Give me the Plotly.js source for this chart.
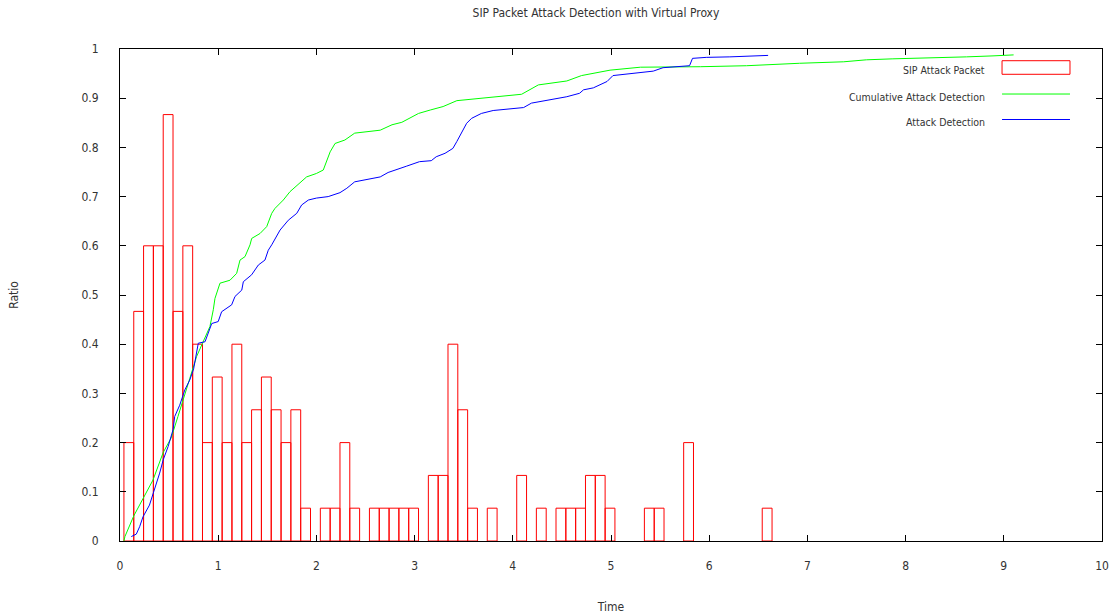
<!DOCTYPE html>
<html>
<head>
<meta charset="utf-8">
<script src="https://cdn.plot.ly/plotly-3.0.1.min.js"></script>
<style>html,body{margin:0;padding:0;background:#fff;}#chart{width:1113px;height:615px;}</style>
</head>
<body>
<div id="chart"></div>
<script>
// SIP attack packets per 0.1 time bin (bin centres)
const barTime = [0.09,0.19,0.29,0.39,0.49,0.59,0.69,0.79,0.89,0.99,
  1.09,1.19,1.29,1.39,1.49,1.59,1.69,1.79,1.89,1.99,
  2.09,2.19,2.29,2.39,2.49,2.59,2.69,2.79,2.89,2.99,
  3.09,3.19,3.29,3.39,3.49,3.59,3.69,3.79,3.89,3.99,
  4.09,4.19,4.29,4.39,4.49,4.59,4.69,4.79,4.89,4.99,
  5.09,5.19,5.29,5.39,5.49,5.59,5.69,5.79,5.89,5.99,
  6.09,6.19,6.29,6.39,6.49,6.59];
const barRatio = [0.2,0.4667,0.6,0.6,0.8667,0.4667,0.6,0.4,0.2,0.3333,
  0.2,0.4,0.2,0.2667,0.3333,0.2667,0.2,0.2667,0.0667,0,
  0.0667,0.0667,0.2,0.0667,0,0.0667,0.0667,0.0667,0.0667,0.0667,
  0,0.1333,0.1333,0.4,0.2667,0.0667,0,0.0667,0,0,
  0.1333,0,0.0667,0,0.0667,0.0667,0.0667,0.1333,0.1333,0.0667,
  0,0,0,0.0667,0.0667,0,0,0.2,0,0,
  0,0,0,0,0,0.0667];

// Cumulative attack detection (green)
const cumX = [0.04,0.05,0.14,0.234,0.336,0.44,0.52,0.59,0.64,0.71,0.78,0.85,0.916,0.95,0.967,1.018,1.12,1.188,1.222,1.273,1.324,1.341,1.426,1.494,1.545,1.578,1.663,1.731,1.833,1.90,2.0,2.07,2.14,2.19,2.29,2.39,2.65,2.77,2.87,3.04,3.16,3.29,3.43,3.6,3.8,3.97,4.09,4.26,4.55,4.70,4.99,5.30,5.57,5.91,6.38,6.69,6.92,7.37,7.60,7.87,8.15,8.62,8.89,9.10];
const cumY = [0,0.009,0.051,0.087,0.124,0.18,0.209,0.253,0.287,0.33,0.375,0.405,0.436,0.47,0.493,0.524,0.53,0.544,0.571,0.578,0.602,0.615,0.625,0.639,0.666,0.676,0.693,0.71,0.727,0.74,0.747,0.754,0.791,0.808,0.815,0.829,0.835,0.846,0.851,0.869,0.876,0.883,0.895,0.898,0.902,0.905,0.908,0.927,0.935,0.946,0.957,0.963,0.963,0.964,0.966,0.969,0.971,0.974,0.978,0.98,0.981,0.984,0.986,0.988];

// Attack detection (blue)
const detX = [0.115,0.166,0.2,0.234,0.30,0.353,0.404,0.44,0.49,0.54,0.557,0.608,0.66,0.71,0.75,0.797,0.866,0.934,1.0,1.035,1.137,1.171,1.24,1.256,1.34,1.409,1.476,1.51,1.545,1.63,1.714,1.80,1.85,1.918,2.0,2.12,2.24,2.31,2.39,2.65,2.73,2.92,3.05,3.17,3.22,3.31,3.39,3.43,3.48,3.53,3.58,3.68,3.80,3.97,4.11,4.19,4.35,4.55,4.68,4.72,4.82,4.96,5.02,5.23,5.43,5.53,5.80,5.83,5.97,6.21,6.48,6.6];
const detY = [0.009,0.014,0.029,0.049,0.073,0.104,0.138,0.165,0.192,0.226,0.253,0.276,0.307,0.327,0.35,0.402,0.405,0.442,0.446,0.466,0.48,0.497,0.51,0.527,0.541,0.561,0.571,0.591,0.602,0.632,0.652,0.666,0.683,0.693,0.697,0.70,0.708,0.717,0.73,0.74,0.749,0.762,0.771,0.773,0.781,0.788,0.798,0.812,0.832,0.849,0.859,0.869,0.875,0.878,0.881,0.89,0.896,0.903,0.91,0.917,0.921,0.934,0.946,0.951,0.955,0.962,0.966,0.981,0.983,0.984,0.986,0.987];

const xTicks = [0,1,2,3,4,5,6,7,8,9,10];
const yTicks = [0,0.1,0.2,0.3,0.4,0.5,0.6,0.7,0.8,0.9,1];
const yTickText = ['0','0.1','0.2','0.3','0.4','0.5','0.6','0.7','0.8','0.9','1'];
const legendNames = ['SIP Attack Packet','Cumulative Attack Detection','Attack Detection'];

const FONT = '"Liberation Sans Narrow", "DejaVu Sans Condensed", "Liberation Sans", Arial, sans-serif';
const TXT = '#333333';

const traces = [
  {type:'bar', x:barTime, y:barRatio.map(v => v === 0 ? null : v), width:0.1, name:legendNames[0],
   marker:{color:'rgba(0,0,0,0)', line:{color:'#ff0000', width:1}}, hoverinfo:'x+y'},
  {type:'scatter', mode:'lines', x:cumX, y:cumY, name:legendNames[1],
   line:{color:'#00ff00', width:1}},
  {type:'scatter', mode:'lines', x:detX, y:detY, name:legendNames[2],
   line:{color:'#0000ff', width:1}}
];

// legend (gnuplot style: text left of sample)
const lx = 0.8829, sx0 = 0.8982, sx1 = 0.9674;
const legY = [0.9573, 0.9030, 0.8522];
const annotations = legendNames.map((n,i)=>({
  text:n, xref:'paper', yref:'paper', x:lx, y:legY[i], xanchor:'right', yanchor:'middle',
  showarrow:false, font:{family:FONT, size:10.5, color:TXT}
}));
const shapes = [
  {type:'rect', xref:'paper', yref:'paper', x0:sx0, x1:sx1, y0:0.9486, y1:0.9762, line:{color:'#ff0000', width:1}, fillcolor:'rgba(0,0,0,0)'},
  {type:'line', xref:'paper', yref:'paper', x0:sx0, x1:sx1, y0:0.9085, y1:0.9085, line:{color:'#00ff00', width:1}},
  {type:'line', xref:'paper', yref:'paper', x0:sx0, x1:sx1, y0:0.8567, y1:0.8567, line:{color:'#0000ff', width:1}}
];

const layout = {
  width:1113, height:615,
  margin:{l:120, r:11, t:49, b:74, pad:0},
  paper_bgcolor:'#ffffff', plot_bgcolor:'#ffffff',
  showlegend:false,
  font:{family:FONT, size:12, color:TXT},
  title:{text:'SIP Packet Attack Detection with Virtual Proxy', font:{family:FONT, size:12, color:TXT},
    xref:'paper', x:0.4847, xanchor:'center', yref:'container', y:0.979, yanchor:'middle'},
  xaxis:{range:[0,10], tickvals:xTicks, ticktext:xTicks.map(String), showgrid:false, zeroline:false,
    showline:true, linecolor:'#000', linewidth:1, mirror:'ticks', ticks:'inside', ticklen:6, tickcolor:'#000', tickwidth:1,
    ticklabelstandoff:14, tickfont:{family:FONT, size:12, color:TXT},
    title:{text:'Time', font:{family:FONT, size:12, color:TXT}, standoff:30}, layer:'above traces'},
  yaxis:{range:[0,1], tickvals:yTicks, ticktext:yTickText, showgrid:false, zeroline:false,
    showline:true, linecolor:'#000', linewidth:1, mirror:'ticks', ticks:'inside', ticklen:6, tickcolor:'#000', tickwidth:1,
    ticklabelstandoff:18, tickfont:{family:FONT, size:12, color:TXT},
    title:{text:'Ratio', font:{family:FONT, size:12, color:TXT}, standoff:60}, layer:'above traces'},
  bargap:0,
  annotations:annotations,
  shapes:shapes
};

Plotly.newPlot('chart', traces, layout, {displayModeBar:false, staticPlot:true});
</script>
</body>
</html>
